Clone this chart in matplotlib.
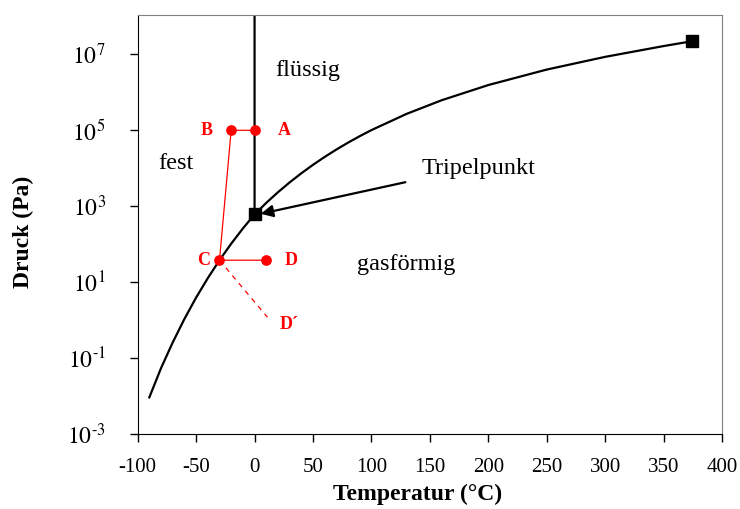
import matplotlib
matplotlib.use('Agg')
import matplotlib.pyplot as plt

plt.rcParams['font.family'] = ['Liberation Serif', 'DejaVu Serif']
plt.rcParams['mathtext.fontset'] = 'stix'
plt.rcParams['axes.unicode_minus'] = False

# sublimation curve (ice / vapour)
subl_T = [-90, -80, -70, -60, -50, -40, -30, -20, -10, 0.01]
subl_p = [0.0093, 0.0547, 0.26, 1.08, 3.94, 12.8, 38.0, 103.3, 259.9, 611.7]
# vaporization curve (liquid / vapour)
vap_T = [0.01, 10, 20, 30, 40, 50, 60, 70, 80, 90, 100, 130, 160, 200, 250, 300, 350, 374]
vap_p = [611.7, 1228, 2339, 4247, 7384, 12350, 19940, 31190, 47410, 70140,
         101325, 270100, 618000, 1555000, 3976000, 8588000, 16530000, 22060000]
# melting line
melt_T = [0.01, 0.0]
melt_p = [611.7, 1.2e8]

triple = (0.01, 611.7)
critical = (374, 22060000)

# process path A -> B -> C -> D, C -> D'
path_T = [0, -20, -30, 10]
path_p = [1e5, 1e5, 38.0, 38.0]
dprime = (11, 1.2)

fig, ax = plt.subplots(figsize=(7.4, 5.09), dpi=100)
fig.subplots_adjust(left=0.186, right=0.976, top=0.971, bottom=0.147)

ax.plot(subl_T, subl_p, color='black', lw=1.6)
ax.plot(vap_T, vap_p, color='black', lw=1.6)
ax.plot(melt_T, melt_p, color='black', lw=1.6)
ax.plot(*triple, marker='s', color='black', ms=9)
ax.plot(*critical, marker='s', color='black', ms=9)

red = '#ff0000'
ax.plot(path_T, path_p, color=red, lw=0.9, marker='o', ms=6.7)
ax.plot([path_T[2], dprime[0]], [path_p[2], dprime[1]], color=red, lw=0.9, ls=(0, (4, 4)))

lbl_kw = dict(color=red, fontsize=13, fontweight='bold', va='center')
ax.annotate('A', (path_T[0], path_p[0]), xytext=(17, 0), textcoords='offset points', ha='left', **lbl_kw)
ax.annotate('B', (path_T[1], path_p[1]), xytext=(-13, 0), textcoords='offset points', ha='right', **lbl_kw)
ax.annotate('C', (path_T[2], path_p[2]), xytext=(-7, 0), textcoords='offset points', ha='right', **lbl_kw)
ax.annotate('D', (path_T[3], path_p[3]), xytext=(13, 0), textcoords='offset points', ha='left', **lbl_kw)
ax.annotate('D´', dprime, xytext=(9, -5), textcoords='offset points', ha='left', **lbl_kw)

txt = 17.5
ax.text(18, 3.8e6, 'flüssig', fontsize=txt, va='center')
ax.text(-82, 1.35e4, 'fest', fontsize=txt, va='center')
ax.text(88, 30, 'gasförmig', fontsize=txt, va='center')
ax.text(143, 1.0e4, 'Tripelpunkt', fontsize=txt, va='center')
ax.annotate('', xy=(3, 611.7), xytext=(129, 4300),
            arrowprops=dict(arrowstyle='-|>', color='black', lw=1.6,
                            mutation_scale=18, shrinkA=0, shrinkB=2))

ax.set_yscale('log')
ax.set_xlim(-100, 400)
ax.set_ylim(1e-3, 1.1e8)
ax.set_xticks(range(-100, 401, 50))
yt = [1e-3, 1e-1, 1e1, 1e3, 1e5, 1e7]
ax.set_yticks(yt)
ax.set_yticklabels([r'$10^{\text{-}3}$', r'$10^{\text{-}1}$', '$10^{1}$',
                    '$10^{3}$', '$10^{5}$', '$10^{7}$'])
ax.minorticks_off()
ax.tick_params(direction='out', length=6, width=1)
ax.tick_params(axis='x', labelsize=15, pad=11)
ax.tick_params(axis='y', labelsize=17, pad=17)

ax.set_xlabel('Temperatur (°C)', fontsize=17, fontweight='bold')
ax.set_ylabel('Druck (Pa)', fontsize=17, fontweight='bold')
ax.xaxis.set_label_coords(0.479, -0.118)
ax.yaxis.set_label_coords(-0.178, 0.482)

for s in ['top', 'right']:
    ax.spines[s].set_color('#808080')
ax.spines['left'].set_color('black')
ax.spines['bottom'].set_color('black')

plt.savefig('out.png', dpi=100)
